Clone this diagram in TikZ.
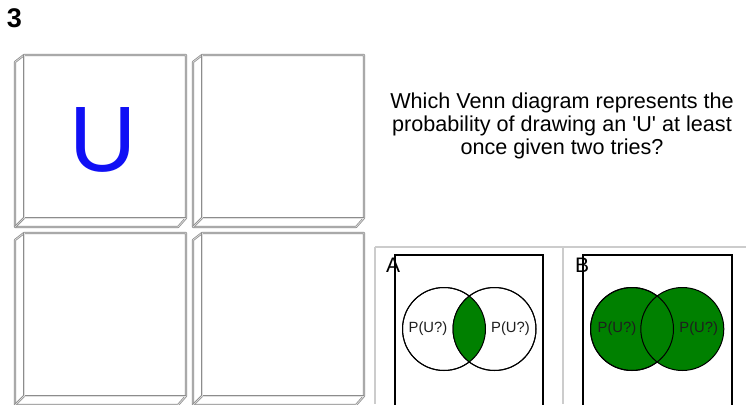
\documentclass[tikz,border=0pt]{standalone}
\usepackage{fontspec}
\setmainfont{Liberation Sans}
\definecolor{tilegray}{HTML}{8C8C8C}
\definecolor{tilelight}{HTML}{E0E0E0}
\definecolor{panelgray}{HTML}{CCCCCC}
\definecolor{venngreen}{HTML}{008000}
\definecolor{letterblue}{HTML}{1010F5}
\definecolor{labelink}{HTML}{1E1E1E}
\tikzset{
  x=1pt, y=-1pt,
  tileline/.style={draw=tilegray, double=tilelight, line width=0.75pt, double distance=0.7pt, line join=round},
  tile/.pic={
    \path[tileline] (0,7) -- (9,0) -- (171,0) -- (171,163) -- (163,172) -- (0,172) -- cycle;
    \path[tileline] (9,0) -- (9,163) -- (171,163);
    \path[tileline] (9,163) -- (0,172);
  },
  panelline/.style={draw=panelgray, line width=2pt},
  vennbox/.style={draw=black, line width=1.4pt},
  venncircle/.style={circle, draw=black, line width=1pt, minimum size=83pt, inner sep=0pt},
  vennlabel/.style={font=\fontsize{14.8pt}{16pt}\selectfont, text=labelink, inner sep=0pt},
  optlabel/.style={font=\fontsize{21pt}{24pt}\selectfont, inner sep=0pt, anchor=north west},
}
\begin{document}
\begin{tikzpicture}
\useasboundingbox (0,0) rectangle (746,404);
\fill[white] (0,0) rectangle (746,404);

% question number
\node[font=\fontsize{27pt}{30pt}\selectfont\bfseries, inner sep=0pt] (num) at (14.5,18) {3};

% tiles
\pic at (15,55) {tile};
\pic at (193,55) {tile};
\pic at (15,233) {tile};
\pic at (193,233) {tile};
\node[font=\fontsize{93pt}{100pt}\selectfont, text=letterblue, inner sep=0pt] (letterU) at (103,140) {U};

% question text
\node[align=center, font=\fontsize{21.6pt}{22.6pt}\selectfont, inner sep=0pt] (question) at (562,126)
  {Which Venn diagram represents the\\probability of drawing an \textquotesingle U\textquotesingle{} at least\\once given two tries?};

% panel separators
\coordinate (hl) at (375,247);
\coordinate (hr) at (746,247);
\coordinate (vab) at (375,404);
\coordinate (vm) at (563,247);
\coordinate (vmb) at (563,404);
\draw[panelline] (hl) -- (hr);
\draw[panelline] (hl) -- (vab);
\draw[panelline] (vm) -- (vmb);

% panel A
\coordinate (boxAtl) at (395,255);
\coordinate (boxAbr) at (543,410);
\draw[vennbox] (boxAtl) rectangle (boxAbr);
\node[venncircle, fill=white] (a1) at (444,329) {};
\node[venncircle, fill=white] (a2) at (494.5,329) {};
\begin{scope}
  \clip (444,329) circle (41.5pt);
  \fill[venngreen] (494.5,329) circle (41.5pt);
\end{scope}
\draw[line width=1pt] (a1.center) circle (41.5pt);
\draw[line width=1pt] (a2.center) circle (41.5pt);
\node[vennlabel] (la1) at (428,329) {P(U?)};
\node[vennlabel] (la2) at (510.5,329) {P(U?)};
\node[optlabel] (optA) at (386,258) {A};

% panel B
\coordinate (boxBtl) at (583,255);
\coordinate (boxBbr) at (732,410);
\draw[vennbox] (boxBtl) rectangle (boxBbr);
\node[venncircle, fill=venngreen] (b1) at (632,329) {};
\node[venncircle, fill=venngreen] (b2) at (682.3,329) {};
\draw[line width=1pt] (b1.center) circle (41.5pt);
\node[vennlabel] (lb1) at (617,329) {P(U?)};
\node[vennlabel] (lb2) at (698.7,329) {P(U?)};
\node[optlabel] (optB) at (575,258) {B};
\end{tikzpicture}
\end{document}
